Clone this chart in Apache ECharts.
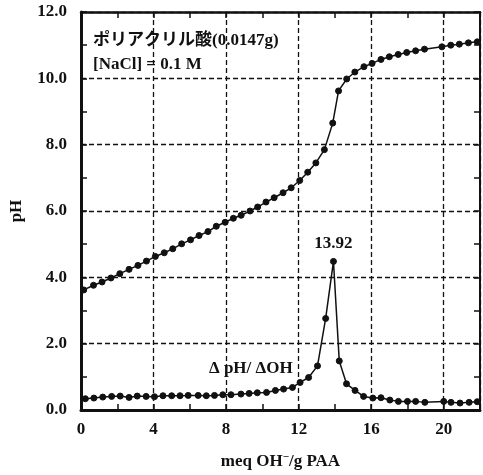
<!DOCTYPE html>
<html>
<head>
<meta charset="utf-8">
<script src="https://cdn.jsdelivr.net/npm/echarts@6/dist/echarts.min.js"></script>
<style>
  html, body { margin: 0; padding: 0; background: #fff; }
  #chart { width: 483px; height: 475px; }
</style>
</head>
<body>
<div id="chart"></div>
<script>
// Titration of poly(acrylic acid) with NaOH: pH and its derivative vs. base added
const phX = [0.15, 0.69, 1.16, 1.65, 2.14, 2.65, 3.14, 3.61, 4.10, 4.59, 5.06, 5.55, 6.04, 6.51, 7.00, 7.46, 7.95, 8.40, 8.83, 9.32, 9.74, 10.20, 10.65, 11.14, 11.59, 12.06, 12.50, 12.95, 13.42, 13.88, 14.20, 14.65, 15.10, 15.60, 16.05, 16.54, 17.00, 17.49, 17.96, 18.45, 18.94, 19.90, 20.39, 20.86, 21.36, 21.85];
const phY = [3.62, 3.76, 3.86, 3.98, 4.11, 4.24, 4.36, 4.49, 4.63, 4.74, 4.86, 5.01, 5.13, 5.26, 5.38, 5.54, 5.66, 5.78, 5.87, 6.00, 6.12, 6.27, 6.40, 6.55, 6.70, 6.92, 7.17, 7.45, 7.85, 8.65, 9.62, 9.98, 10.19, 10.35, 10.45, 10.57, 10.65, 10.72, 10.78, 10.83, 10.88, 10.95, 11.00, 11.03, 11.07, 11.10];

const dX = [0.24, 0.71, 1.20, 1.69, 2.16, 2.65, 3.10, 3.59, 4.05, 4.52, 5.00, 5.46, 5.91, 6.46, 6.91, 7.36, 7.82, 8.27, 8.82, 9.27, 9.72, 10.23, 10.72, 11.17, 11.66, 12.08, 12.55, 13.04, 13.49, 13.92, 14.24, 14.64, 15.11, 15.58, 16.09, 16.54, 17.03, 17.50, 18.00, 18.45, 18.96, 20.00, 20.40, 20.90, 21.40, 21.85];
const dY = [0.34, 0.36, 0.39, 0.41, 0.42, 0.38, 0.42, 0.41, 0.40, 0.43, 0.43, 0.43, 0.44, 0.44, 0.43, 0.44, 0.46, 0.46, 0.48, 0.50, 0.52, 0.53, 0.59, 0.63, 0.68, 0.83, 0.98, 1.33, 2.76, 4.48, 1.48, 0.79, 0.59, 0.41, 0.36, 0.37, 0.30, 0.26, 0.26, 0.26, 0.23, 0.26, 0.23, 0.21, 0.23, 0.25];

const xTicks = [0, 4, 8, 12, 16, 20];
const yTicks = [0, 2, 4, 6, 8, 10, 12];

const peakIndex = dY.indexOf(Math.max.apply(null, dY));

const serif = '"Liberation Serif", "Times New Roman", "Noto Sans CJK JP", serif';
const ink = '#111';

const pairs = (xs, ys) => xs.map((x, i) => [x, ys[i]]);

const dashedGrid = { show: true, lineStyle: { color: ink, width: 1.3, type: [5, 3] } };

const chart = echarts.init(document.getElementById('chart'), null, { renderer: 'canvas' });

chart.setOption({
  animation: false,
  backgroundColor: '#fff',
  grid: { left: 81, top: 12, width: 404, height: 400, containLabel: false },
  xAxis: [
    {
      type: 'value', position: 'bottom', min: 0, max: 22, interval: 4,
      axisLine: { show: true, onZero: false, lineStyle: { color: ink, width: 3 } },
      axisTick: { show: true, inside: true, length: 6, lineStyle: { color: ink, width: 1.5 } },
      minorTick: { show: true, splitNumber: 2, length: 6, lineStyle: { color: ink, width: 1.5 } },
      axisLabel: {
        margin: 11, color: ink, fontFamily: serif, fontWeight: 'bold', fontSize: 17,
        formatter: v => (xTicks.indexOf(v) >= 0 ? String(v) : '')
      },
      splitLine: dashedGrid,
      name: 'meq OH{sup|−}/g PAA',
      nameLocation: 'middle', nameGap: 42,
      nameTextStyle: {
        color: ink, fontFamily: serif, fontWeight: 'bold', fontSize: 17,
        rich: { sup: { fontFamily: serif, fontWeight: 'bold', fontSize: 11, verticalAlign: 'top', padding: [0, 0, 8, 0], color: ink } }
      }
    },
    {
      type: 'value', position: 'top', min: 0, max: 22, interval: 4,
      axisLine: { show: true, onZero: false, lineStyle: { color: ink, width: 2.5 } },
      axisTick: { show: true, inside: true, length: 6, lineStyle: { color: ink, width: 1.5 } },
      minorTick: { show: true, splitNumber: 2, length: 6, lineStyle: { color: ink, width: 1.5 } },
      axisLabel: { show: false },
      splitLine: { show: false }
    }
  ],
  yAxis: [
    {
      type: 'value', position: 'left', min: 0, max: 12, interval: 2,
      axisLine: { show: true, onZero: false, lineStyle: { color: ink, width: 3 } },
      axisTick: { show: true, inside: true, length: 6, lineStyle: { color: ink, width: 1.5 } },
      minorTick: { show: true, splitNumber: 2, length: 6, lineStyle: { color: ink, width: 1.5 } },
      axisLabel: {
        margin: 14, color: ink, fontFamily: serif, fontWeight: 'bold', fontSize: 17,
        formatter: v => (yTicks.indexOf(v) >= 0 ? v.toFixed(1) : '')
      },
      splitLine: dashedGrid,
      name: 'pH', nameLocation: 'middle', nameGap: 56, nameRotate: 90,
      nameTextStyle: { color: ink, fontFamily: serif, fontWeight: 'bold', fontSize: 17 }
    },
    {
      type: 'value', position: 'right', min: 0, max: 12, interval: 2,
      axisLine: { show: true, onZero: false, lineStyle: { color: ink, width: 2 } },
      axisTick: { show: true, inside: true, length: 6, lineStyle: { color: ink, width: 1.5 } },
      minorTick: { show: true, splitNumber: 2, length: 6, lineStyle: { color: ink, width: 1.5 } },
      axisLabel: { show: false },
      splitLine: { show: false }
    }
  ],
  series: [
    {
      name: 'pH', type: 'line', xAxisIndex: 0, yAxisIndex: 0,
      data: pairs(phX, phY),
      symbol: 'circle', symbolSize: 6, showAllSymbol: true,
      lineStyle: { color: ink, width: 1.5 },
      itemStyle: { color: ink, borderColor: ink, borderWidth: 1 },
      z: 5
    },
    {
      name: 'ΔpH/ΔOH', type: 'line', xAxisIndex: 0, yAxisIndex: 0,
      data: pairs(dX, dY),
      symbol: 'circle', symbolSize: 6, showAllSymbol: true,
      lineStyle: { color: ink, width: 1.5 },
      itemStyle: { color: ink, borderColor: ink, borderWidth: 1 },
      label: {
        show: true, position: 'top', distance: 6,
        color: ink, fontFamily: serif, fontWeight: 'bold', fontSize: 17,
        formatter: p => (p.dataIndex === peakIndex ? p.value[0].toFixed(2) : '')
      },
      z: 5
    }
  ],
  graphic: [
    {
      type: 'text', left: 93, top: 32,
      style: { text: 'ポリアクリル酸(0.0147g)', fill: ink, font: 'bold 17px ' + serif }
    },
    {
      type: 'text', left: 93, top: 56,
      style: { text: '[NaCl] = 0.1 M', fill: ink, font: 'bold 17px ' + serif }
    },
    {
      type: 'text', left: 209, top: 360,
      style: { text: 'Δ pH/ ΔOH', fill: ink, font: 'bold 17px ' + serif }
    }
  ]
});
</script>
</body>
</html>
